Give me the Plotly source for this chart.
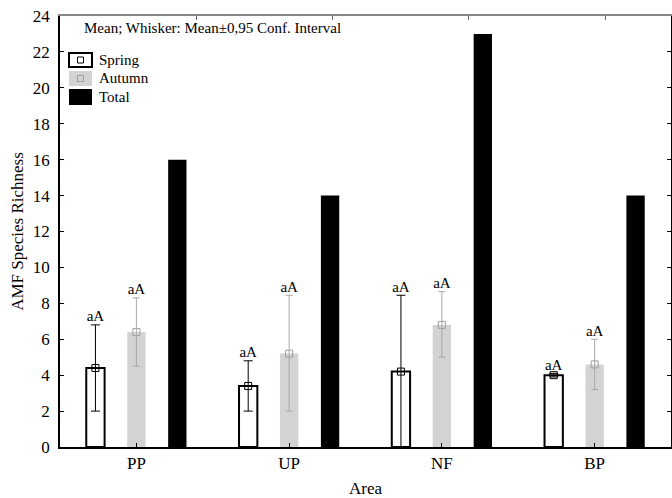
import plotly.graph_objects as go

areas = ["PP", "UP", "NF", "BP"]
spring_mean = [4.4, 3.4, 4.2, 4.0]
spring_hi = [6.8, 4.8, 8.45, 4.1]
spring_lo = [2.0, 2.0, 0.0, 3.9]
autumn_mean = [6.4, 5.2, 6.8, 4.6]
autumn_hi = [8.3, 8.45, 8.65, 6.0]
autumn_lo = [4.5, 2.0, 5.0, 3.2]
total = [16, 14, 23, 14]
letters_spring = ["aA", "aA", "aA", "aA"]
letters_autumn = ["aA", "aA", "aA", "aA"]
y_ticks = list(range(0, 25, 2))
top_ticks = [0.392, 1.284, 2.176, 3.069]
legend_names = ["Spring", "Autumn", "Total"]

FONT = "Liberation Serif, Times New Roman, serif"
W, H = 672, 498
ML, MR, MT, MB = 60, 1, 16, 51
PW, PH = W - ML - MR, H - MT - MB

def px(x):
    return (x - ML) / PW

def py(y):
    return 1 - (y - MT) / PH

off = 0.268
bw = 0.12
idx = list(range(len(areas)))
xs = [i - off for i in idx]
xa = idx
xt = [i + off for i in idx]

fig = go.Figure()
fig.add_trace(go.Bar(
    x=xs, y=spring_mean, width=bw, name="Spring",
    marker=dict(color="white", line=dict(color="black", width=2)),
    error_y=dict(type="data", symmetric=False,
                 array=[h - m for h, m in zip(spring_hi, spring_mean)],
                 arrayminus=[m - l for m, l in zip(spring_mean, spring_lo)],
                 color="black", thickness=1, width=4.5),
))
fig.add_trace(go.Bar(
    x=xa, y=autumn_mean, width=bw, name="Autumn",
    marker=dict(color="#d3d3d3", line=dict(width=0)),
    error_y=dict(type="data", symmetric=False,
                 array=[h - m for h, m in zip(autumn_hi, autumn_mean)],
                 arrayminus=[m - l for m, l in zip(autumn_mean, autumn_lo)],
                 color="#a8a8a8", thickness=1, width=3.5),
))
fig.add_trace(go.Bar(
    x=xt, y=total, width=bw, name="Total",
    marker=dict(color="black", line=dict(width=0)),
))
fig.add_trace(go.Scatter(
    x=xs, y=spring_mean, mode="markers", showlegend=False, hoverinfo="skip",
    marker=dict(symbol="square-open", size=7, color="black", line=dict(width=1)),
))
fig.add_trace(go.Scatter(
    x=xa, y=autumn_mean, mode="markers", showlegend=False, hoverinfo="skip",
    marker=dict(symbol="square-open", size=7, color="#a0a0a0", line=dict(width=1)),
))
fig.add_trace(go.Scatter(
    x=xs, y=spring_hi, mode="text", text=letters_spring, textposition="top center",
    showlegend=False, hoverinfo="skip",
    textfont=dict(family=FONT, size=15, color="black"),
))
fig.add_trace(go.Scatter(
    x=xa, y=autumn_hi, mode="text", text=letters_autumn, textposition="top center",
    showlegend=False, hoverinfo="skip",
    textfont=dict(family=FONT, size=15, color="black"),
))
fig.add_trace(go.Scatter(x=[None], y=[None], xaxis="x2", showlegend=False, hoverinfo="skip"))

# custom legend (paper coordinates)
shapes = []
annotations = []
leg_rows = [(53, 67), (71, 86), (89, 105)]
leg_fill = ["white", "#d3d3d3", "black"]
leg_line = ["black", "#d3d3d3", "black"]
for (y0, y1), fc, lc, name in zip(leg_rows, leg_fill, leg_line, legend_names):
    shapes.append(dict(type="rect", xref="paper", yref="paper",
                       x0=px(69), x1=px(92), y0=py(y1), y1=py(y0),
                       fillcolor=fc, line=dict(color=lc, width=2 if name == "Spring" else 0)))
    annotations.append(dict(text=name, xref="paper", yref="paper",
                            x=px(97), y=py((y0 + y1) / 2), xanchor="left", yanchor="middle",
                            showarrow=False, font=dict(family=FONT, size=15, color="black")))
for (y0, y1), col in zip(leg_rows[:2], ["black", "#a0a0a0"]):
    cy = (y0 + y1) / 2
    shapes.append(dict(type="rect", xref="paper", yref="paper",
                       x0=px(77.5), x1=px(83.5), y0=py(cy + 3), y1=py(cy - 3),
                       fillcolor="rgba(0,0,0,0)", line=dict(color=col, width=1)))

annotations.append(dict(
    text="Mean; Whisker: Mean±0,95 Conf. Interval",
    xref="paper", yref="paper", x=px(82), y=py(28), xanchor="left", yanchor="middle",
    showarrow=False, font=dict(family=FONT, size=15, color="black"),
))

fig.update_layout(
    width=W, height=H,
    margin=dict(l=ML, r=MR, t=MT, b=MB),
    plot_bgcolor="white", paper_bgcolor="white",
    font=dict(family=FONT, size=17, color="black"),
    barmode="overlay",
    showlegend=False,
    xaxis=dict(range=[-0.5, 3.5], tickvals=idx, ticktext=areas, automargin=False,
               ticks="inside", ticklen=4, tickcolor="black",
               showline=True, linecolor="black", linewidth=1.5,
               showgrid=False, zeroline=False,
               title=dict(text="Area", font=dict(family=FONT, size=17), standoff=14),
               tickfont=dict(family=FONT, size=17)),
    xaxis2=dict(range=[-0.5, 3.5], overlaying="x", side="top", automargin=False,
                tickvals=top_ticks, ticktext=["", "", "", ""],
                ticks="inside", ticklen=4, tickcolor="#666",
                showline=True, linecolor="#888", linewidth=1.5,
                showgrid=False, zeroline=False),
    yaxis=dict(range=[0, 24], tickvals=y_ticks, automargin=False,
               ticks="inside", ticklen=4, tickcolor="black", ticklabelstandoff=5,
               showline=True, linecolor="black", linewidth=1.5, mirror="ticks",
               showgrid=False, zeroline=False,
               title=dict(text="AMF Species Richness", font=dict(family=FONT, size=17), standoff=5),
               tickfont=dict(family=FONT, size=17)),
    shapes=shapes,
    annotations=annotations,
)

fig.write_html("out.html", config={"displayModeBar": False},
               post_script="document.body.style.margin='0';document.body.style.overflow='hidden';")
